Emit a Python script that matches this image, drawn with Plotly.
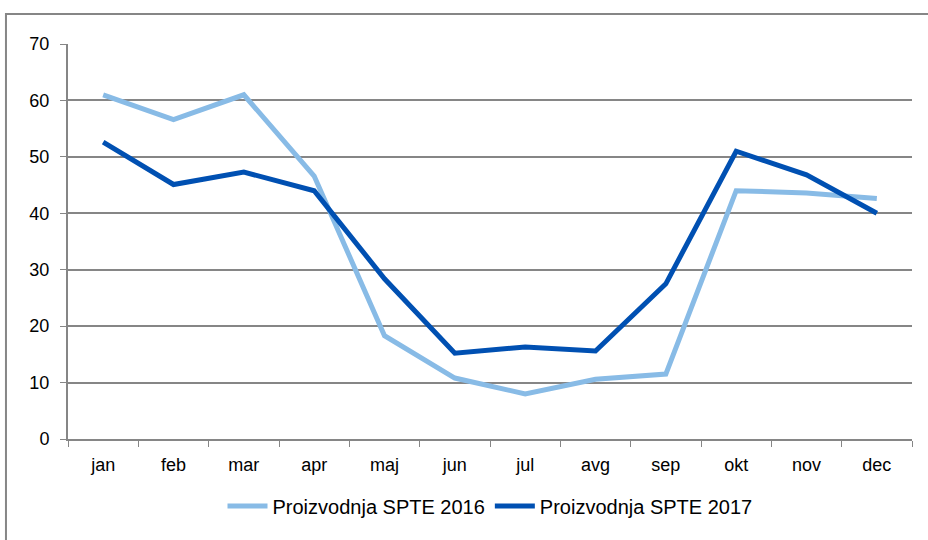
import plotly.graph_objects as go

months = ["jan", "feb", "mar", "apr", "maj", "jun", "jul", "avg", "sep", "okt", "nov", "dec"]
spte_2016 = [61.0, 56.6, 61.0, 46.6, 18.3, 10.8, 8.0, 10.6, 11.5, 44.0, 43.6, 42.6]
spte_2017 = [52.6, 45.1, 47.3, 44.0, 28.4, 15.2, 16.3, 15.6, 27.5, 51.0, 46.8, 40.0]
y_ticks = [0, 10, 20, 30, 40, 50, 60, 70]

grid = "#868686"
font = dict(family="Liberation Sans, Arial, sans-serif", size=18, color="#000000")

fig = go.Figure()
fig.add_trace(go.Scatter(x=months, y=spte_2016, mode="lines", name="Proizvodnja SPTE 2016",
                         line=dict(color="#88BBE6", width=5)))
fig.add_trace(go.Scatter(x=months, y=spte_2017, mode="lines", name="Proizvodnja SPTE 2017",
                         line=dict(color="#0050B2", width=5)))

fig.update_layout(
    width=928, height=540,
    margin=dict(l=68, r=16, t=44, b=101),
    paper_bgcolor="white", plot_bgcolor="white",
    font=font,
    showlegend=True,
    legend=dict(orientation="h", x=0.5, xanchor="center", y=-0.12, yanchor="top",
                font=dict(size=20), itemwidth=40, borderwidth=0),
    xaxis=dict(range=[-0.5, 11.5], showgrid=False, showline=True, linecolor=grid, linewidth=2,
               ticks="outside", tickson="boundaries", ticklen=6, tickcolor=grid,
               tickfont=dict(size=18), ticklabelstandoff=8, automargin=False),
    yaxis=dict(range=[0, 70], tickvals=y_ticks, showgrid=True, gridcolor=grid, gridwidth=2,
               showline=True, linecolor=grid, linewidth=2, zeroline=False,
               ticks="outside", ticklen=6, tickcolor=grid, tickfont=dict(size=18),
               ticklabelstandoff=7, automargin=False),
    shapes=[dict(type="rect", xref="paper", yref="paper",
                 x0=-0.0735, x1=1.2, y0=-0.5, y1=1.076,
                 line=dict(color=grid, width=2), layer="below")],
)

fig.write_html("out.html")
